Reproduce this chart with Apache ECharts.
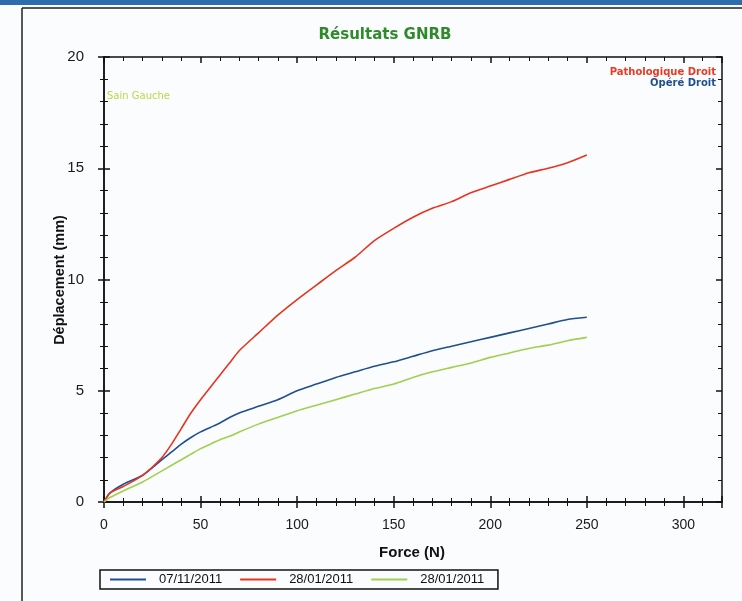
<!DOCTYPE html>
<html>
<head>
<meta charset="utf-8">
<script src="https://cdn.jsdelivr.net/npm/echarts@6/dist/echarts.min.js"></script>
<style>
  html, body { margin: 0; padding: 0; background: #ffffff; }
  #chart { width: 742px; height: 601px; }
</style>
</head>
<body>
<div id="chart"></div>
<script>
// Force (N)
const force = [0, 3, 10, 20, 30, 35, 40, 45, 50, 55, 60, 65, 70, 80, 90, 100, 110, 120, 130, 140, 150, 160, 170, 180, 190, 200, 210, 220, 230, 240, 250];

// Displacement (mm)
const opereDroit = [0, 0.4, 0.8, 1.2, 1.9, 2.25, 2.6, 2.9, 3.15, 3.35, 3.55, 3.8, 4.0, 4.3, 4.6, 5.0, 5.3, 5.6, 5.85, 6.1, 6.3, 6.55, 6.8, 7.0, 7.2, 7.4, 7.6, 7.8, 8.0, 8.2, 8.3];
const pathoDroit = [0, 0.4, 0.7, 1.2, 2.0, 2.6, 3.3, 4.0, 4.6, 5.15, 5.7, 6.25, 6.8, 7.6, 8.4, 9.1, 9.75, 10.4, 11.0, 11.75, 12.3, 12.8, 13.2, 13.5, 13.9, 14.2, 14.5, 14.8, 15.0, 15.25, 15.6];
const sainGauche = [0, 0.2, 0.5, 0.9, 1.4, 1.65, 1.9, 2.15, 2.4, 2.6, 2.8, 2.95, 3.15, 3.5, 3.8, 4.1, 4.35, 4.6, 4.85, 5.1, 5.3, 5.6, 5.85, 6.05, 6.25, 6.5, 6.7, 6.9, 7.05, 7.25, 7.4];

const seriesNames = ['07/11/2011', '28/01/2011', '28/01/2011 '];
const seriesColors = ['#1f4f91', '#e8341f', '#9fd04e'];
const seriesData = [opereDroit, pathoDroit, sainGauche];

const xTicks = { min: 0, max: 320, interval: 50 };
const yTicks = { min: 0, max: 20, interval: 5 };

const pairs = (ys) => force.map((f, i) => [f, ys[i]]);

const chart = echarts.init(document.getElementById('chart'), null, { renderer: 'canvas' });

const labelFont = { fontFamily: 'Liberation Sans', fontSize: 14, color: '#1a1a1a' };

function xAx(pos, inside, showLabel) {
  return {
    type: 'value', position: pos, min: xTicks.min, max: xTicks.max, interval: xTicks.interval,
    axisLine: { show: true, onZero: false, lineStyle: { color: '#111', width: 1.5 } },
    axisTick: { show: true, inside: inside, length: 6, lineStyle: { color: '#111', width: 1.5 } },
    minorTick: { show: true, splitNumber: 5, length: 4, lineStyle: { color: '#111', width: 1 } },
    splitLine: { show: false },
    axisLabel: Object.assign({ show: showLabel, margin: 16, showMaxLabel: false }, labelFont)
  };
}
function yAx(pos, inside, showLabel) {
  return {
    type: 'value', position: pos, min: yTicks.min, max: yTicks.max, interval: yTicks.interval,
    axisLine: { show: true, onZero: false, lineStyle: { color: '#111', width: 1.5 } },
    axisTick: { show: true, inside: inside, length: 6, lineStyle: { color: '#111', width: 1.5 } },
    minorTick: { show: true, splitNumber: 5, length: 4, lineStyle: { color: '#111', width: 1 } },
    splitLine: { show: false },
    axisLabel: Object.assign({ show: showLabel, margin: 20 }, labelFont, { fontSize: 15 })
  };
}

const xAxes = [xAx('bottom', false, true), xAx('bottom', true, false), xAx('top', true, false)];
const yAxes = [yAx('left', false, true), yAx('left', true, false), yAx('right', true, false)];

chart.setOption({
  backgroundColor: '#fbfcfd',
  animation: false,
  title: {
    text: 'Résultats GNRB', left: 380, top: 23, textAlign: 'center',
    textStyle: { fontFamily: 'DejaVu Sans', fontSize: 15, fontWeight: 'bold', color: '#2f8a2c' }
  },
  grid: { left: 104, right: 20, top: 57, bottom: 99 },
  xAxis: xAxes,
  yAxis: yAxes,
  legend: {
    left: 100, top: 570, orient: 'horizontal',
    icon: 'rect', itemWidth: 36, itemHeight: 2, itemGap: 18,
    borderColor: '#111', borderWidth: 1.5, padding: [3, 10, 3, 10],
    textStyle: { fontFamily: 'Liberation Sans', fontSize: 13, color: '#111', padding: [0, 0, 0, 8] },
    data: seriesNames
  },
  graphic: [
    { type: 'rect', shape: { x: 0, y: 0, width: 742, height: 5 }, style: { fill: '#2f6cae' } },
    { type: 'line', shape: { x1: 22, y1: 8, x2: 742, y2: 8 }, style: { stroke: '#222', lineWidth: 1.5 } },
    { type: 'line', shape: { x1: 22, y1: 8, x2: 22, y2: 601 }, style: { stroke: '#222', lineWidth: 1.5 } },
    { type: 'text', x: 107, y: 96, style: { text: 'Sain Gauche', fill: '#bcd64a', font: '10px "DejaVu Sans"', verticalAlign: 'middle' } },
    { type: 'text', x: 716, y: 72, style: { text: 'Pathologique Droit', fill: '#ea3a22', font: 'bold 10px "DejaVu Sans"', align: 'right', verticalAlign: 'middle' } },
    { type: 'text', x: 716, y: 83, style: { text: 'Opéré Droit', fill: '#1f4f91', font: 'bold 10px "DejaVu Sans"', align: 'right', verticalAlign: 'middle' } },
    { type: 'text', x: 412, y: 553, style: { text: 'Force (N)', fill: '#111', font: 'bold 15px "Liberation Sans"', align: 'center', verticalAlign: 'middle' } },
    { type: 'text', x: 60, y: 280, rotation: Math.PI / 2, style: { text: 'Déplacement (mm)', fill: '#111', font: 'bold 14.5px "Liberation Sans"', align: 'center', verticalAlign: 'middle' } }
  ],
  series: seriesData.map((d, i) => ({
    name: seriesNames[i], type: 'line', xAxisIndex: 0, yAxisIndex: 0,
    data: pairs(d), showSymbol: false, symbol: 'none', smooth: 0.2,
    lineStyle: { color: seriesColors[i], width: 1.6 },
    itemStyle: { color: seriesColors[i] }
  }))
});
</script>
</body>
</html>
